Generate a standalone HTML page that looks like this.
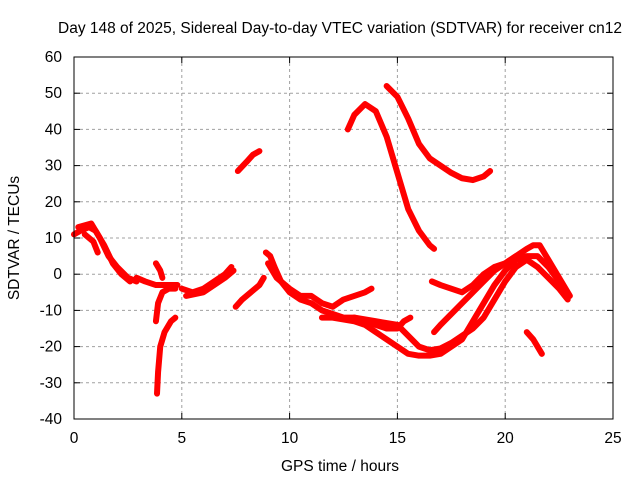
<!DOCTYPE html>
<html><head><meta charset="utf-8"><style>
body{margin:0;background:#fff;}
svg{display:block;font-family:"Liberation Sans",sans-serif;font-size:15.5px;}
</style></head><body>
<svg id="chart" width="640" height="480">
<text x="340" y="33" text-anchor="middle">Day 148 of 2025, Sidereal Day-to-day VTEC variation (SDTVAR) for receiver cn12</text>
<text x="340" y="471" text-anchor="middle">GPS time / hours</text>
<text transform="translate(19,238) rotate(-90)" text-anchor="middle">SDTVAR / TECUs</text>
<g id="grid"></g>
<g id="ticks"></g>
<g id="series"></g>
<rect x="74" y="57" width="539" height="362" fill="none" stroke="#000" stroke-width="1"/>
</svg>
<script>
const xTicks=[0,5,10,15,20,25];
const yTicks=[-40,-30,-20,-10,0,10,20,30,40,50,60];
const tracks=[
[[0,11],[0.3,12],[0.7,13],[1.0,12],[1.4,8],[1.8,3],[2.2,0],[2.6,-2]],
[[0.2,13],[0.8,14],[1.2,10],[1.6,5],[2.0,2],[2.5,-1],[2.9,-2]],
[[0.5,11],[0.9,9],[1.1,6]],
[[2.9,-1],[3.3,-2],[3.8,-3],[4.3,-3],[4.8,-3]],
[[3.85,-33],[3.9,-27],[4.0,-20],[4.2,-16],[4.5,-13],[4.7,-12]],
[[3.8,-13],[3.9,-8],[4.1,-5],[4.4,-4],[4.7,-4]],
[[3.8,3],[4.0,1],[4.1,-1]],
[[5.0,-4],[5.5,-5],[6.0,-4],[6.5,-2],[7.0,0],[7.3,2]],
[[5.2,-6],[6.0,-5],[6.5,-3],[7.0,-1],[7.4,1]],
[[7.5,-9],[7.8,-7],[8.2,-5],[8.6,-3],[8.8,-1]],
[[7.6,28.5],[8.0,31],[8.3,33],[8.6,34]],
[[8.9,6],[9.1,5],[9.3,2],[9.6,-2],[10,-5],[10.5,-7],[11,-8],[11.5,-10],[12,-11],[12.5,-12],[13,-12],[13.5,-13],[14,-14],[14.5,-15],[15,-15],[15.3,-13],[15.6,-12]],
[[9.0,3],[9.4,-1],[10,-4],[10.5,-6],[11,-6],[11.5,-8],[12,-9],[12.5,-7],[13,-6],[13.5,-5],[13.8,-4]],
[[11.5,-12],[12,-12],[13,-13],[13.5,-14],[14,-16],[14.5,-18],[15,-20],[15.5,-22],[16,-22.5],[16.5,-22.5],[17,-22],[17.5,-20],[18,-18],[18.5,-13],[19,-8],[19.5,-3],[20,1],[20.5,4],[21,5],[21.5,5],[22,2],[22.5,-2],[22.9,-6]],
[[13,-12],[14,-13],[15,-14],[15.5,-17],[16,-20],[16.5,-21],[17,-20.5],[17.5,-19],[18,-17],[18.5,-15],[19,-12],[19.5,-7],[20,-2],[20.5,2],[21,4],[21.5,2],[22,-1],[22.5,-4],[22.9,-7]],
[[12.7,40],[13,44],[13.5,47],[14,45],[14.5,38],[15,28],[15.5,18],[16,12],[16.5,8],[16.7,7]],
[[14.5,52],[15,49],[15.5,43],[16,36],[16.5,32],[17,30],[17.5,28],[18,26.5],[18.5,26],[19,27],[19.3,28.5]],
[[16.6,-2],[17,-3],[17.5,-4],[18,-5],[18.5,-3],[19,0],[19.5,2],[20,3],[20.5,5],[21,7],[21.3,8],[21.6,8],[22,4],[22.5,-1],[23,-6]],
[[16.7,-16],[17,-14],[17.5,-11],[18,-8],[18.5,-5],[19,-2],[19.5,1],[20,3],[20.5,5]],
[[21,-16],[21.3,-18],[21.7,-22]]
];
const NS='http://www.w3.org/2000/svg';
const X=v=>74+v*539/25, Y=v=>57+(60-v)*362/100;
const grid=document.getElementById('grid'), ticks=document.getElementById('ticks'), ser=document.getElementById('series');
function mk(t,a,p){const e=document.createElementNS(NS,t);for(const k in a)e.setAttribute(k,a[k]);p.appendChild(e);return e;}
xTicks.forEach(v=>{
 if(v>0&&v<25){const g=mk('line',{x1:X(v),x2:X(v),y1:57,y2:419,stroke:'#a0a0a0','stroke-dasharray':'3,3'},grid);
 
 }
 mk('line',{x1:X(v),x2:X(v),y1:419,y2:413,stroke:'#000'},ticks);
 mk('line',{x1:X(v),x2:X(v),y1:57,y2:63,stroke:'#000'},ticks);
 const t=mk('text',{x:X(v),y:443,'text-anchor':'middle'},ticks);t.textContent=v;
 
 
});
yTicks.forEach(v=>{
 if(v>-40&&v<60){const g=mk('line',{x1:74,x2:613,y1:Y(v),y2:Y(v),stroke:'#a0a0a0','stroke-dasharray':'3,3'},grid);
 
 }
 mk('line',{x1:74,x2:80,y1:Y(v),y2:Y(v),stroke:'#000'},ticks);
 mk('line',{x1:613,x2:607,y1:Y(v),y2:Y(v),stroke:'#000'},ticks);
 const t=mk('text',{x:62,y:Y(v)+5,'text-anchor':'end'},ticks);t.textContent=v;
 
 
});
tracks.forEach(tr=>{
 const pl=mk('polyline',{points:tr.map(p=>X(p[0])+','+Y(p[1])).join(' '),fill:'none',stroke:'#f00','stroke-width':6,'stroke-linejoin':'round','stroke-linecap':'round'},ser);
 
 
});
</script>
</body></html>
